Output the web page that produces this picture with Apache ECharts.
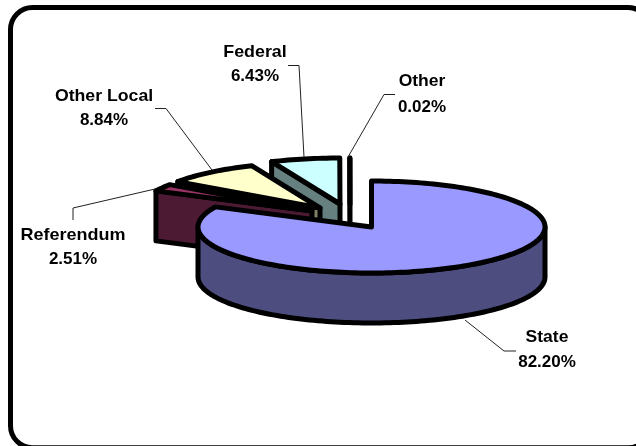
<!DOCTYPE html>
<html>
<head>
<meta charset="utf-8">
<style>html,body{margin:0;padding:0;background:#fff;overflow:hidden}#c{width:636px;height:446px}</style>
<script src="https://cdn.jsdelivr.net/npm/echarts@6/dist/echarts.min.js"></script>
</head>
<body>
<div id="c"></div>
<script>
// Revenue sources, clockwise from twelve o'clock.
const categories = ['State', 'Referendum', 'Other Local', 'Federal', 'Other'];
const shares = [82.20, 2.51, 8.84, 6.43, 0.02];

// Pie drawing parameters: tilt ellipse, rim depth, exploded centres, colours.
const RX = 173.5, RY = 46, DEPTH = 50, OUTLINE = 5;
const centres = [[371.5, 227], [312, 211], [320, 208], [340, 204], [350, 204]];
const topColours = ['#9999ff', '#993366', '#ffffcc', '#ccffff', '#660066'];
const sideColours = ['#4d4d80', '#4d1a33', '#808066', '#668080', '#330033'];

// Label placement: centre x, line y's, horizontal stretch of the word line.
const labelSpots = [[547, 337, 362, 1.03], [73, 235, 259, 1.06], [104, 96, 120, 1.04], [255, 52, 76, 1.05], [422, 81, 107, 1.03]];
const leaders = [
  [[516, 351], [504, 351], [465, 320]],
  [[73, 220], [73, 208], [155, 189]],
  [[155, 108.5], [166, 108.5], [212, 170]],
  [[288, 65.5], [299, 65.5], [304, 157]],
  [[395, 94.5], [384, 94.5], [348, 157]]
];

const total = shares.reduce((a, b) => a + b, 0);
const spans = [];
shares.reduce((from, v) => {
  const to = from + v / total * 360;
  spans.push([from, to]);
  return to;
}, 0);

const rad = d => d * Math.PI / 180;
const rimPoint = (c, deg, drop) => [
  c[0] + RX * Math.sin(rad(deg)),
  c[1] - RY * Math.cos(rad(deg)) + (drop || 0)
];
function arc(c, from, to, drop) {
  const n = Math.max(1, Math.ceil((to - from) / 1.5));
  const pts = [];
  for (let i = 0; i <= n; i++) pts.push(rimPoint(c, from + (to - from) * i / n, drop));
  return pts;
}
const outlined = (points, fill) => ({
  type: 'polygon',
  shape: { points },
  style: { fill, stroke: '#000', lineWidth: OUTLINE, lineJoin: 'round' }
});

// One 3D slice: visible cut faces, then the outer wall, then the top.
function sliceShapes(i) {
  const c = centres[i], [a, b] = spans[i];
  const side = sideColours[i], parts = [];
  const face = deg => {
    const p = rimPoint(c, deg);
    return outlined([c, p, [p[0], p[1] + DEPTH], [c[0], c[1] + DEPTH]], side);
  };
  if (Math.sin(rad(a)) < -1e-6) parts.push(face(a));
  if (Math.sin(rad(b)) > 1e-6) parts.push(face(b));
  const w0 = Math.max(a, 90), w1 = Math.min(b, 270);
  if (w1 > w0) {
    parts.push(outlined(arc(c, w0, w1, 0).concat(arc(c, w0, w1, DEPTH).reverse()), side));
  }
  parts.push(outlined([c].concat(arc(c, a, b, 0)), topColours[i]));
  return parts;
}

// Paint order runs from the back of the pie to the front.
const paintOrder = categories.map((_, i) => i).reverse();

const textItems = [];
categories.forEach((name, i) => {
  const [x, y1, y2, stretch] = labelSpots[i];
  const font = 'bold 17px "Liberation Sans", Arial, sans-serif';
  textItems.push({
    type: 'text', x, y: y1, scaleX: stretch, silent: true,
    style: { text: name, x: 0, y: 0, align: 'center', verticalAlign: 'middle', font, fill: '#000' }
  });
  textItems.push({
    type: 'text', x, y: y2, silent: true,
    style: { text: shares[i].toFixed(2) + '%', x: 0, y: 0, align: 'center', verticalAlign: 'middle', font, fill: '#000' }
  });
});

const chart = echarts.init(document.getElementById('c'), null, { renderer: 'canvas' });
chart.setOption({
  animation: false,
  backgroundColor: '#fff',
  series: [{
    type: 'custom',
    coordinateSystem: 'none',
    silent: true,
    data: paintOrder.map(i => ({ name: categories[i], value: shares[i] })),
    renderItem: params => ({ type: 'group', children: sliceShapes(paintOrder[params.dataIndex]) })
  }],
  graphic: [
    {
      type: 'rect', silent: true, z: -1,
      shape: { x: 10.5, y: 7.5, width: 639.5, height: 440.3, r: 22 },
      style: { fill: '#fff', stroke: '#000', lineWidth: 5 }
    }
  ].concat(leaders.map(points => ({
    type: 'polyline', silent: true, z: 5,
    shape: { points },
    style: { fill: 'none', stroke: '#222', lineWidth: 1 }
  }))).concat(textItems.map(t => Object.assign({ z: 6 }, t)))
});
</script>
</body>
</html>
